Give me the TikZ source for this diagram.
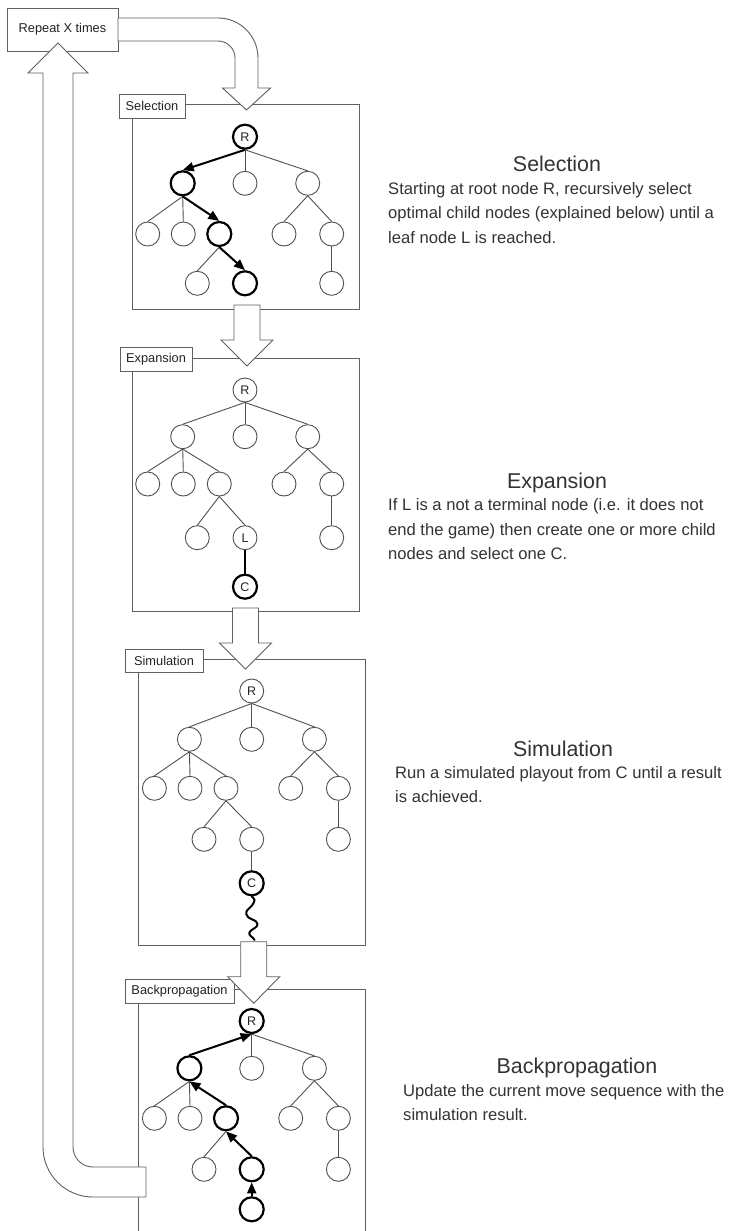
\documentclass[tikz,border=0pt]{standalone}
\usepackage{fontspec}
\setmainfont{Liberation Sans}
\usetikzlibrary{arrows.meta}
\definecolor{fg}{HTML}{606060}
\definecolor{tg}{HTML}{505050}
\definecolor{txt}{HTML}{333333}
\definecolor{lt}{HTML}{222222}
\begin{document}
\begin{tikzpicture}[x=1pt,y=-1pt,
  frame/.style={draw=fg, line width=0.9pt},
  lab/.style={draw=fg, fill=white, line width=0.9pt, inner sep=0pt, font=\fontsize{12.8}{14}\selectfont, text=lt},
  tn/.style={circle, draw=tg, fill=white, line width=0.9pt, minimum size=24pt, inner sep=0pt, font=\fontsize{12.5}{13}\selectfont, text=lt},
  tk/.style={tn, draw=black, line width=2.2pt},
  te/.style={draw=tg, line width=0.9pt},
  tb/.style={draw=black, line width=2pt},
  ta/.style={tb, -{Triangle[length=11pt,width=9pt]}},
  blk/.style={draw=fg, fill=white, line width=0.9pt, line join=miter},
  hd/.style={font=\fontsize{21.4}{25}\selectfont, text=txt, inner sep=0pt, anchor=base},
  bd/.style={font=\fontsize{16.6}{20}\selectfont, text=txt, inner sep=0pt, anchor=base west}]
\useasboundingbox (0,0) rectangle (730,1231);
\fill[white] (0,0) rectangle (730,1231);

% ---------- Repeat box
\node[lab, minimum width=111pt, minimum height=43pt] (rep) at (62.5,29.5) {Repeat X times};

% ---------- Selection panel
\draw[frame] (132,104.7) rectangle (359,309.5);
\node[lab, minimum width=66pt, minimum height=24pt] (selLab) at (152,106) {Selection};
\node[tk] (sR) at (245,136.7) {R};
\node[tk] (sa) at (182.7,183.3) {};
\node[tn] (sb) at (245,183.3) {};
\node[tn] (sc) at (307.7,183.3) {};
\node[tn] (saa) at (147.7,234) {};
\node[tn] (sab) at (183.3,234) {};
\node[tk] (sac) at (219.3,234) {};
\node[tn] (sca) at (284,234) {};
\node[tn] (scb) at (331.7,234) {};
\node[tn] (saca) at (197.3,283.3) {};
\node[tk] (sacb) at (245,283.3) {};
\node[tn] (scba) at (331.7,283.3) {};
\draw[ta] (sR.south) -- (sa.north);
\draw[te] (sR.south) -- (sb.north);
\draw[te] (sR.south) -- (sc.north);
\draw[te] (sa.south) -- (saa.north);
\draw[te] (sa.south) -- (sab.north);
\draw[ta] (sa.south) -- (sac.north);
\draw[te] (sc.south) -- (sca.north);
\draw[te] (sc.south) -- (scb.north);
\draw[te] (sac.south) -- (saca.north);
\draw[ta] (sac.south) -- (sacb.north);
\draw[te] (scb.south) -- (scba.north);

% ---------- Expansion panel
\draw[frame] (132,358.7) rectangle (359,611);
\node[lab, minimum width=72pt, minimum height=24pt] (expLab) at (156,359) {Expansion};
\node[tn] (eR) at (245,390) {R};
\node[tn] (ea) at (182.7,436.7) {};
\node[tn] (eb) at (245,436.7) {};
\node[tn] (ec) at (307.7,436.7) {};
\node[tn] (eaa) at (147.7,484) {};
\node[tn] (eab) at (183.3,484) {};
\node[tn] (eac) at (219.3,484) {};
\node[tn] (eca) at (284,484) {};
\node[tn] (ecb) at (331.7,484) {};
\node[tn] (eaca) at (197.3,537.7) {};
\node[tn] (eacb) at (245,537.7) {L};
\node[tn] (ecba) at (331.7,537.7) {};
\node[tk] (eC) at (245,586.7) {C};
\draw[te] (eR.south) -- (ea.north);
\draw[te] (eR.south) -- (eb.north);
\draw[te] (eR.south) -- (ec.north);
\draw[te] (ea.south) -- (eaa.north);
\draw[te] (ea.south) -- (eab.north);
\draw[te] (ea.south) -- (eac.north);
\draw[te] (ec.south) -- (eca.north);
\draw[te] (ec.south) -- (ecb.north);
\draw[te] (eac.south) -- (eaca.north);
\draw[te] (eac.south) -- (eacb.north);
\draw[te] (ecb.south) -- (ecba.north);
\draw[tb] (eacb.south) -- (eC.north);

% ---------- Simulation panel
\draw[frame] (138.3,659.3) rectangle (365.7,945.5);
\node[lab, minimum width=78pt, minimum height=23pt] (simLab) at (164,660.5) {Simulation};
\begin{scope}[shift={(6.7,0)}]
\node[tn] (mR) at (245,691) {R};
\node[tn] (ma) at (182.7,739.3) {};
\node[tn] (mb) at (245,739.3) {};
\node[tn] (mc) at (307.7,739.3) {};
\node[tn] (maa) at (147.7,788.3) {};
\node[tn] (mab) at (183.3,788.3) {};
\node[tn] (mac) at (219.3,788.3) {};
\node[tn] (mca) at (284,788.3) {};
\node[tn] (mcb) at (331.7,788.3) {};
\node[tn] (maca) at (197.3,839.3) {};
\node[tn] (macb) at (245,839.3) {};
\node[tn] (mcba) at (331.7,839.3) {};
\node[tk] (mC) at (245,883.3) {C};
\end{scope}
\draw[te] (mR.south) -- (ma.north);
\draw[te] (mR.south) -- (mb.north);
\draw[te] (mR.south) -- (mc.north);
\draw[te] (ma.south) -- (maa.north);
\draw[te] (ma.south) -- (mab.north);
\draw[te] (ma.south) -- (mac.north);
\draw[te] (mc.south) -- (mca.north);
\draw[te] (mc.south) -- (mcb.north);
\draw[te] (mac.south) -- (maca.north);
\draw[te] (mac.south) -- (macb.north);
\draw[te] (mcb.south) -- (mcba.north);
\draw[te] (macb.south) -- (mC.north);
\draw[tb, line cap=round] plot[smooth, tension=0.6] coordinates {(mC.south) (254.5,900) (252,905.5) (246.5,911.5) (248,917) (256,921.5) (257,926) (250.5,931) (249.5,934.5) (253,938) (254.5,940)};

% ---------- Backpropagation panel
\draw[frame] (138.3,1232) -- (138.3,989.3) -- (365.7,989.3) -- (365.7,1232);
\node[lab, minimum width=109pt, minimum height=24pt] (bakLab) at (179.5,991) {Backpropagation};
\begin{scope}[shift={(6.7,0)}]
\node[tk] (bR) at (245,1021) {R};
\node[tk] (ba) at (182.7,1068.3) {};
\node[tn] (bb) at (245,1068.3) {};
\node[tn] (bc) at (307.7,1068.3) {};
\node[tn] (baa) at (147.7,1118.3) {};
\node[tn] (bab) at (183.3,1118.3) {};
\node[tk] (bac) at (219.3,1118.3) {};
\node[tn] (bca) at (284,1118.3) {};
\node[tn] (bcb) at (331.7,1118.3) {};
\node[tn] (baca) at (197.3,1169.3) {};
\node[tk] (bacb) at (245,1169.3) {};
\node[tn] (bcba) at (331.7,1169.3) {};
\node[tk] (bD) at (245,1209.3) {};
\end{scope}
\draw[ta] (ba.north) -- (bR.south);
\draw[te] (bR.south) -- (bb.north);
\draw[te] (bR.south) -- (bc.north);
\draw[te] (ba.south) -- (baa.north);
\draw[te] (ba.south) -- (bab.north);
\draw[ta] (bac.north) -- (ba.south);
\draw[te] (bc.south) -- (bca.north);
\draw[te] (bc.south) -- (bcb.north);
\draw[te] (bac.south) -- (baca.north);
\draw[ta] (bacb.north) -- (bac.south);
\draw[te] (bcb.south) -- (bcba.north);
\draw[ta] (bD.north) -- (bacb.south);

% ---------- Block arrows
% loop back: from Backpropagation up to Repeat
\draw[blk] (146,1167) -- (93,1167) arc[start angle=90, end angle=180, radius=20]
  -- (73,73) -- (88,73) -- (58,43) -- (28,73) -- (43,73) -- (43,1147)
  arc[start angle=180, end angle=90, radius=50] -- (146,1197) -- cycle;
% Repeat -> Selection
\draw[blk] (118,18) -- (218,18) arc[start angle=-90, end angle=0, radius=40]
  -- (258,88) -- (270.5,88) -- (246.5,110) -- (222.5,88) -- (235,88) -- (235,58)
  arc[start angle=0, end angle=-90, radius=17] -- (118,41) -- cycle;
% Selection -> Expansion
\draw[blk] (234,305) -- (260,305) -- (260,340) -- (273,340) -- (247,366) -- (221,340) -- (234,340) -- cycle;
% Expansion -> Simulation
\draw[blk] (232.5,608) -- (258.5,608) -- (258.5,643) -- (271.5,643) -- (245.5,669) -- (219.5,643) -- (232.5,643) -- cycle;
% Simulation -> Backpropagation
\draw[blk] (240.7,941.7) -- (266.7,941.7) -- (266.7,976.7) -- (279.7,976.7) -- (253.7,1003.3) -- (227.7,976.7) -- (240.7,976.7) -- cycle;

% ---------- Descriptions
\node[hd] (selH) at (557,171.7) {Selection};
\node[bd] (selT1) at (388,194) {Starting at root node R, recursively select};
\node[bd] (selT2) at (388,218.5) {optimal child nodes (explained below) until a};
\node[bd] (selT3) at (388,243) {leaf node L is reached.};

\node[hd] (expH) at (557,488) {Expansion};
\node[bd] (expT1) at (388,510.5) {If L is a not a terminal node (i.e. it does not};
\node[bd] (expT2) at (388,535) {end the game) then create one or more child};
\node[bd] (expT3) at (388,559.5) {nodes and select one C.};

\node[hd] (simH) at (563,756) {Simulation};
\node[bd] (simT1) at (395,778) {Run a simulated playout from C until a result};
\node[bd] (simT2) at (395,802.5) {is achieved.};

\node[hd] (bakH) at (577,1073) {Backpropagation};
\node[bd] (bakT1) at (403,1096) {Update the current move sequence with the};
\node[bd] (bakT2) at (403,1120.5) {simulation result.};
\end{tikzpicture}
\end{document}
